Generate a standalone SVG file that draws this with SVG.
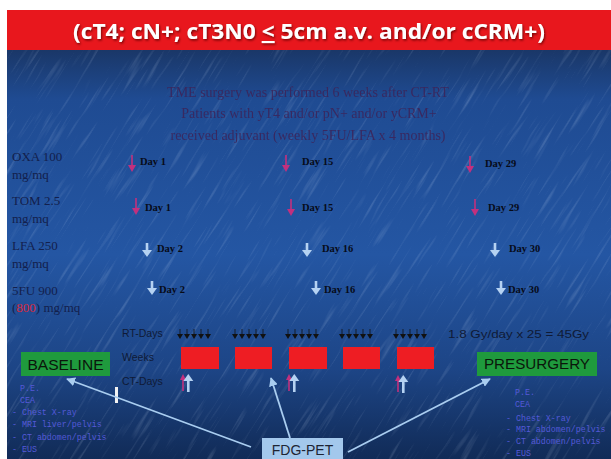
<svg xmlns="http://www.w3.org/2000/svg" xmlns:xlink="http://www.w3.org/1999/xlink" width="611" height="459" viewBox="0 0 611 459">
  <defs>
    <linearGradient id="bg" x1="0" y1="0" x2="0" y2="1">
      <stop offset="0" stop-color="#1a3768"/>
      <stop offset="0.12" stop-color="#1f4b92"/>
      <stop offset="0.5" stop-color="#2456a3"/>
      <stop offset="0.78" stop-color="#1d4586"/>
      <stop offset="1" stop-color="#112b57"/>
    </linearGradient>
    <filter id="streaks" x="0" y="0" width="1" height="1">
      <feTurbulence type="fractalNoise" baseFrequency="0.02 0.3" numOctaves="2" seed="4"/>
      <feColorMatrix type="matrix" values="0 0 0 0 0.75  0 0 0 0 0.85  0 0 0 0 1  0 0 0 2 -1.15"/>
    </filter>
    <filter id="shadow" x="-5%" y="-30%" width="110%" height="160%">
      <feDropShadow dx="1" dy="1.5" stdDeviation="0.8" flood-color="#5a0000" flood-opacity="0.8"/>
    </filter>
    <!-- drug-day arrows -->
    <g id="magArrow">
      <line x1="0" y1="-9" x2="0" y2="3" stroke="#c2307e" stroke-width="1.6"/>
      <polygon points="-4,1 4,1 0,8" fill="#c2307e"/>
    </g>
    <g id="blueArrow">
      <rect x="-1.3" y="-7" width="2.6" height="8" fill="#b5d2f2"/>
      <polygon points="-5,0 5,0 0,7" fill="#b5d2f2"/>
    </g>
    <!-- RT fraction tick -->
    <g id="tick">
      <line x1="0" y1="-5" x2="0" y2="0" stroke="#111" stroke-width="0.8"/>
      <polygon points="-3,0 3,0 0,5" fill="#111"/>
    </g>
    <g id="rtGroup">
      <use xlink:href="#tick" x="0"/>
      <use xlink:href="#tick" x="7"/>
      <use xlink:href="#tick" x="14"/>
      <use xlink:href="#tick" x="21"/>
      <use xlink:href="#tick" x="28"/>
    </g>
    <!-- CT-day paired up arrows -->
    <g id="ctPair">
      <line x1="0" y1="2" x2="0" y2="15" stroke="#c2307e" stroke-width="1.6"/>
      <polygon points="-3,4 3,4 0,-2" fill="#c2307e"/>
      <rect x="4" y="4" width="2.6" height="12" fill="#b5d2f2"/>
      <polygon points="0.3,5 10.3,5 5.3,-2" fill="#b5d2f2"/>
    </g>
    <marker id="head" viewBox="0 0 10 10" refX="9" refY="5" markerWidth="5" markerHeight="5" orient="auto" markerUnits="strokeWidth">
      <path d="M0,0 L10,5 L0,10 z" fill="#a9cdf0"/>
    </marker>
    <style>
      .lab { font-family: "Liberation Serif", serif; font-size: 13px; fill: #13204c; }
      .day { font-family: "Liberation Serif", serif; font-size: 10.5px; font-weight: bold; fill: #070b18; }
      .note { font-family: "Liberation Serif", serif; font-size: 14px; fill: #3d2358; opacity: 0.85; text-anchor: middle; }
      .rt { font-family: "Liberation Sans", sans-serif; font-size: 10.5px; fill: #0f1a36; }
      .list { font-family: "Liberation Mono", monospace; font-size: 8.3px; fill: #5459d8; }
      .tag { font-family: "Liberation Sans", sans-serif; font-size: 15.5px; fill: #0b160b; }
      .week { fill: #ee1d23; }
      .conn { stroke: #a9cdf0; stroke-width: 1.8; fill: none; marker-end: url(#head); }
    </style>
  </defs>

  <!-- page -->
  <rect width="611" height="459" fill="#ffffff"/>
  <rect x="7" y="50" width="604" height="409" fill="url(#bg)"/>
  <g transform="rotate(-58 309 255)" opacity="0.28">
    <rect x="-60" y="-120" width="740" height="760" filter="url(#streaks)"/>
  </g>
  <rect x="0" y="0" width="611" height="10" fill="#ffffff"/>
  <rect x="0" y="0" width="7" height="459" fill="#ffffff"/>

  <!-- title band -->
  <g id="title">
    <rect x="7" y="10" width="604" height="40" fill="#e8171d"/>
    <text x="309" y="39" text-anchor="middle" filter="url(#shadow)" font-family="'Open Sans', 'DejaVu Sans', sans-serif" font-size="20.5" font-weight="bold" fill="#ffffff" textLength="472" lengthAdjust="spacingAndGlyphs">(cT4; cN+; cT3N0 <tspan text-decoration="underline">&lt;</tspan> 5cm a.v. and/or cCRM+)</text>
  </g>

  <!-- adjuvant note -->
  <g id="note">
    <text class="note" x="308" y="97">TME surgery was performed 6 weeks after CT-RT</text>
    <text class="note" x="309" y="118">Patients with yT4 and/or pN+ and/or yCRM+</text>
    <text class="note" x="308" y="140">received adjuvant (weekly 5FU/LFA x 4 months)</text>
  </g>

  <!-- drug labels -->
  <g id="drugs">
    <text class="lab" x="12" y="161">OXA 100</text>
    <text class="lab" x="12" y="179" font-size="11">mg/mq</text>
    <text class="lab" x="12" y="205">TOM 2.5</text>
    <text class="lab" x="12" y="223" font-size="11">mg/mq</text>
    <text class="lab" x="12" y="250">LFA 250</text>
    <text class="lab" x="12" y="268" font-size="11">mg/mq</text>
    <text class="lab" x="12" y="295">5FU 900</text>
    <text class="lab" x="12" y="312" font-size="11">(<tspan fill="#d8283a">800</tspan>) mg/mq</text>
  </g>

  <!-- drug administration days -->
  <g id="oxa">
    <use xlink:href="#magArrow" x="132" y="164"/>
    <text class="day" x="140" y="165">Day 1</text>
    <use xlink:href="#magArrow" x="286" y="164"/>
    <text class="day" x="302" y="165">Day 15</text>
    <use xlink:href="#magArrow" x="470" y="165"/>
    <text class="day" x="485" y="167">Day 29</text>
  </g>
  <g id="tom">
    <use xlink:href="#magArrow" x="136" y="207"/>
    <text class="day" x="145" y="211">Day 1</text>
    <use xlink:href="#magArrow" x="291" y="208"/>
    <text class="day" x="302" y="211">Day 15</text>
    <use xlink:href="#magArrow" x="475" y="208"/>
    <text class="day" x="488" y="211">Day 29</text>
  </g>
  <g id="lfa">
    <use xlink:href="#blueArrow" x="147" y="250"/>
    <text class="day" x="157" y="252">Day 2</text>
    <use xlink:href="#blueArrow" x="307" y="250"/>
    <text class="day" x="322" y="252">Day 16</text>
    <use xlink:href="#blueArrow" x="495" y="250"/>
    <text class="day" x="509" y="252">Day 30</text>
  </g>
  <g id="fu">
    <use xlink:href="#blueArrow" x="152" y="288"/>
    <text class="day" x="159" y="293">Day 2</text>
    <use xlink:href="#blueArrow" x="316" y="288"/>
    <text class="day" x="324" y="293">Day 16</text>
    <use xlink:href="#blueArrow" x="501" y="288"/>
    <text class="day" x="508" y="293">Day 30</text>
  </g>

  <!-- radiotherapy schedule -->
  <g id="schedule">
    <text class="rt" x="122" y="337">RT-Days</text>
    <text class="rt" x="122" y="361">Weeks</text>
    <text class="rt" x="122" y="385">CT-Days</text>
    <use xlink:href="#rtGroup" x="180" y="334"/>
    <use xlink:href="#rtGroup" x="235" y="334"/>
    <use xlink:href="#rtGroup" x="288" y="334"/>
    <use xlink:href="#rtGroup" x="342" y="334"/>
    <use xlink:href="#rtGroup" x="396" y="334"/>
    <rect class="week" x="181" y="347" width="38" height="22"/>
    <rect class="week" x="235" y="347" width="37" height="22"/>
    <rect class="week" x="289" y="347" width="38" height="22"/>
    <rect class="week" x="343" y="347" width="37" height="22"/>
    <rect class="week" x="397" y="347" width="37" height="22"/>
    <use xlink:href="#ctPair" x="183" y="376"/>
    <use xlink:href="#ctPair" x="289" y="376"/>
    <use xlink:href="#ctPair" x="398" y="377"/>
    <text class="rt" x="448" y="338" font-size="12.5" textLength="141" lengthAdjust="spacingAndGlyphs">1.8 Gy/day x 25 = 45Gy</text>
    <rect x="115" y="387" width="3" height="16" fill="#f2f2f2"/>
  </g>

  <!-- baseline staging -->
  <g id="baseline">
    <rect x="21" y="352" width="89" height="24" fill="#1f9a3d"/>
    <text class="tag" x="65.5" y="370" text-anchor="middle" textLength="76" lengthAdjust="spacingAndGlyphs">BASELINE</text>
    <text class="list" x="20" y="391">P.E.</text>
    <text class="list" x="20" y="403">CEA</text>
    <text class="list" x="12" y="415">- Chest X-ray</text>
    <text class="list" x="12" y="427">- MRI liver/pelvis</text>
    <text class="list" x="12" y="440">- CT abdomen/pelvis</text>
    <text class="list" x="12" y="452">- EUS</text>
  </g>

  <!-- presurgery staging -->
  <g id="presurgery">
    <rect x="477" y="352" width="120" height="24" fill="#1f9a3d"/>
    <text class="tag" x="537" y="369" text-anchor="middle" textLength="106" lengthAdjust="spacingAndGlyphs">PRESURGERY</text>
    <text class="list" x="515" y="395">P.E.</text>
    <text class="list" x="515" y="407">CEA</text>
    <text class="list" x="506" y="421">- Chest X-ray</text>
    <text class="list" x="506" y="432">- MRI abdomen/pelvis</text>
    <text class="list" x="506" y="444">- CT abdomen/pelvis</text>
    <text class="list" x="506" y="456">- EUS</text>
  </g>

  <!-- PET timing -->
  <g id="fdgpet">
    <rect x="262" y="438" width="81" height="24" fill="#a3c8ec"/>
    <text x="302.5" y="455" text-anchor="middle" font-family="'Liberation Sans', sans-serif" font-size="14" fill="#1d2433">FDG-PET</text>
  </g>

  <g id="connectors">
    <line class="conn" x1="251" y1="447" x2="67" y2="379"/>
    <line class="conn" x1="290" y1="438" x2="271" y2="378"/>
    <line class="conn" x1="348" y1="452" x2="490" y2="379"/>
  </g>
</svg>
